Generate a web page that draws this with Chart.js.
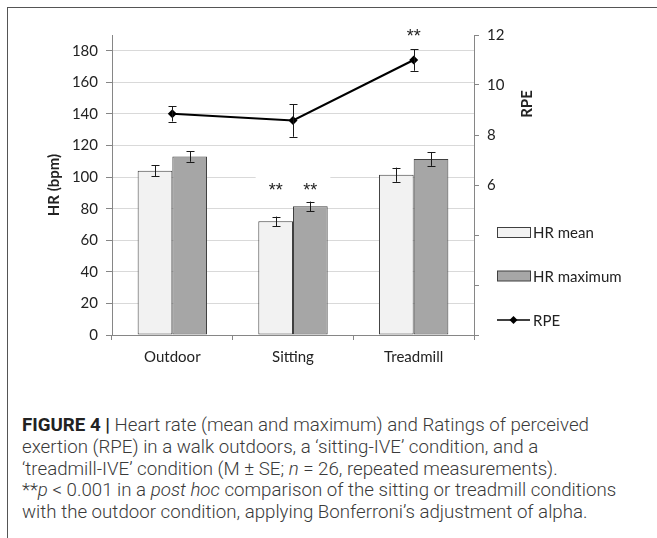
<!DOCTYPE html>
<html>
<head>
<meta charset="utf-8">
<script src="https://cdn.jsdelivr.net/npm/chart.js@4"></script>
<style>
  html, body { margin: 0; padding: 0; background: #fff; }
  body { width: 657px; height: 538px; position: relative; overflow: hidden; }
  #frame { position: absolute; left: 7px; top: 7px; width: 660px; height: 540px;
           border-top: 1.5px solid #555; border-left: 1.5px solid #555; }
  #wrap { position: absolute; left: 0; top: 0; width: 657px; height: 395px; }
  #caption { position: absolute; left: 22px; top: 415px; width: 634px;
             font-family: "Roboto", sans-serif; font-weight: 300; font-size: 18.7px;
             line-height: 21.8px; color: #3a3a3a; white-space: nowrap; }
  #caption b { color: #222; font-weight: 700; }
</style>
</head>
<body>
<div id="frame"></div>
<div id="wrap"><canvas id="c" width="657" height="395"></canvas></div>
<div id="caption">
<div><b>FIGURE 4 |</b> Heart rate (mean and maximum) and Ratings of perceived</div>
<div>exertion (RPE) in a walk outdoors, a ‘sitting-IVE’ condition, and a</div>
<div>‘treadmill-IVE’ condition (M ± SE; <i>n</i> = 26, repeated measurements).</div>
<div>**<i>p</i> &lt; 0.001 in a <i>post hoc</i> comparison of the sitting or treadmill conditions</div>
<div>with the outdoor condition, applying Bonferroni’s adjustment of alpha.</div>
</div>
<script>
// ---- data ----
const categories = ["Outdoor", "Sitting", "Treadmill"];
const hrMean = [104, 72, 101.5];
const hrMeanSE = [3.5, 3, 4.5];
const hrMax = [113, 81.5, 111.5];
const hrMaxSE = [3.3, 3, 4.4];
const rpe = [8.85, 8.58, 11.0];
const rpeSE = [0.31, 0.65, 0.43];
const sigMean = [false, true, false];
const sigMax = [false, true, false];
const sigRPE = [false, false, true];
const hrTicks = [0, 20, 40, 60, 80, 100, 120, 140, 160, 180];
const rpeLabelled = [6, 8, 10, 12];

const FONT = "Lato";
const AX = '#868686';

const errorBars = {
  id: 'errorBars',
  afterDatasetsDraw(chart) {
    const ctx = chart.ctx;
    ctx.save();
    ctx.strokeStyle = '#1a1a1a';
    ctx.lineWidth = 1;
    chart.data.datasets.forEach((ds, di) => {
      const meta = chart.getDatasetMeta(di);
      const scale = chart.scales[meta.yAxisID];
      meta.data.forEach((el, i) => {
        const v = ds.data[i], se = ds.se[i];
        const x = Math.round(el.x) + 0.5;
        const yt = scale.getPixelForValue(v + se);
        const yb = scale.getPixelForValue(v - se);
        ctx.beginPath();
        ctx.moveTo(x, yt); ctx.lineTo(x, yb);
        ctx.moveTo(x - 4, Math.round(yt) + 0.5); ctx.lineTo(x + 4, Math.round(yt) + 0.5);
        ctx.moveTo(x - 4, Math.round(yb) + 0.5); ctx.lineTo(x + 4, Math.round(yb) + 0.5);
        ctx.stroke();
      });
    });
    ctx.restore();
  }
};

const stars = {
  id: 'stars',
  afterDatasetsDraw(chart) {
    const ctx = chart.ctx;
    const yL = chart.scales.y, yR = chart.scales.y2;
    const m0 = chart.getDatasetMeta(0), m1 = chart.getDatasetMeta(1), m2 = chart.getDatasetMeta(2);
    ctx.save();
    ctx.font = `18px "Liberation Sans"`;
    ctx.textAlign = 'center';
    ctx.textBaseline = 'alphabetic';
    categories.forEach((c, i) => {
      const top = Math.min(yL.getPixelForValue(hrMean[i] + hrMeanSE[i]), yL.getPixelForValue(hrMax[i] + hrMaxSE[i]));
      const ys = top - 16;
      [[sigMean, m0], [sigMax, m1]].forEach(([flags, meta]) => {
        if (!flags[i]) return;
        const x = meta.data[i].x;
        ctx.fillStyle = '#fff';
        ctx.fillRect(x - 20, ys - 13, 40, 26);
        ctx.fillStyle = '#222';
        ctx.fillText('**', x, ys + 10.5);
      });
      if (sigRPE[i]) {
        const x = m2.data[i].x;
        const y = yR.getPixelForValue(rpe[i] + rpeSE[i]) - 18;
        ctx.fillStyle = '#222';
        ctx.fillText('**', x, y + 10.5);
      }
    });
    ctx.restore();
  }
};

const customLegend = {
  id: 'customLegend',
  afterDraw(chart) {
    const ctx = chart.ctx;
    const x0 = 497, w = 33;
    const rows = [
      { label: 'HR mean', fill: '#f2f2f2', y: 232.5 },
      { label: 'HR maximum', fill: '#a6a6a6', y: 276 },
      { label: 'RPE', line: true, y: 320 }
    ];
    ctx.save();
    rows.forEach(r => {
      if (r.line) {
        ctx.strokeStyle = '#000'; ctx.lineWidth = 1.5;
        ctx.beginPath(); ctx.moveTo(x0, r.y); ctx.lineTo(x0 + w, r.y); ctx.stroke();
        ctx.fillStyle = '#000';
        ctx.beginPath();
        const cx = x0 + w / 2;
        ctx.moveTo(cx, r.y - 4); ctx.lineTo(cx + 4, r.y); ctx.lineTo(cx, r.y + 4); ctx.lineTo(cx - 4, r.y);
        ctx.closePath(); ctx.fill();
      } else {
        ctx.fillStyle = r.fill;
        ctx.fillRect(x0 + 0.5, r.y - 5, w, 10);
        ctx.strokeStyle = '#3f3f3f'; ctx.lineWidth = 1;
        ctx.strokeRect(x0 + 0.5, r.y - 5, w, 10);
      }
      ctx.fillStyle = '#222';
      ctx.font = `15px ${FONT}`;
      ctx.textAlign = 'left';
      ctx.textBaseline = 'middle';
      ctx.fillText(r.label, x0 + w + 3, r.y + 1);
    });
    // axis titles
    ctx.font = `bold 15px ${FONT}`;
    ctx.textAlign = 'center';
    ctx.textBaseline = 'middle';
    ctx.save();
    ctx.translate(54, 185);
    ctx.rotate(-Math.PI / 2);
    ctx.fillText('HR (bpm)', 0, 0);
    ctx.restore();
    ctx.save();
    ctx.translate(527, 104);
    ctx.rotate(-Math.PI / 2);
    ctx.fillText('RPE', 0, 0);
    ctx.restore();
    ctx.restore();
  }
};

new Chart(document.getElementById('c'), {
  data: {
    labels: categories,
    datasets: [
      { type: 'bar', label: 'HR mean', data: hrMean, se: hrMeanSE, yAxisID: 'y', order: 1,
        backgroundColor: '#f2f2f2', borderColor: '#3f3f3f', borderWidth: 1, borderSkipped: false },
      { type: 'bar', label: 'HR maximum', data: hrMax, se: hrMaxSE, yAxisID: 'y', order: 1,
        backgroundColor: '#a6a6a6', borderColor: '#3f3f3f', borderWidth: 1, borderSkipped: false },
      { type: 'line', label: 'RPE', data: rpe, se: rpeSE, yAxisID: 'y2', order: 0,
        borderColor: '#000', borderWidth: 2, backgroundColor: '#000',
        pointStyle: 'rectRot', pointRadius: 4.5, pointBorderWidth: 0, tension: 0 }
    ]
  },
  options: {
    responsive: false,
    animation: false,
    devicePixelRatio: 1,
    layout: { padding: { top: 35, left: 0, right: 0, bottom: 0 } },
    plugins: { legend: { display: false }, tooltip: { enabled: false } },
    datasets: { bar: { barPercentage: 1.0, categoryPercentage: 0.575 } },
    scales: {
      x: {
        offset: true,
        border: { color: AX, width: 1 },
        grid: { offset: true, drawOnChartArea: false, drawTicks: true, tickLength: 5, tickColor: AX },
        ticks: { font: { family: FONT, size: 15 }, color: '#222', padding: 8 },
        afterFit(s) { s.height = 395 - 335; }
      },
      y: {
        position: 'left',
        min: 0, max: 190,
        border: { color: AX, width: 1 },
        grid: { color: '#d9d9d9', tickColor: AX, tickLength: 6 },
        ticks: { stepSize: 20, font: { family: FONT, size: 15 }, color: '#222', padding: 8 },
        afterBuildTicks(s) { s.ticks = hrTicks.map(v => ({ value: v })); },
        afterFit(s) { s.width = 112; }
      },
      y2: {
        position: 'right',
        min: 0, max: 12,
        border: { color: AX, width: 1 },
        grid: { drawOnChartArea: false, tickColor: AX, tickLength: 5 },
        ticks: { stepSize: 2, font: { family: FONT, size: 15 }, color: '#222', padding: 8,
                 callback: v => rpeLabelled.includes(v) ? String(v) : '' },
        afterFit(s) { s.width = 657 - 474; }
      }
    }
  },
  plugins: [errorBars, stars, customLegend]
});
</script>
</body>
</html>
